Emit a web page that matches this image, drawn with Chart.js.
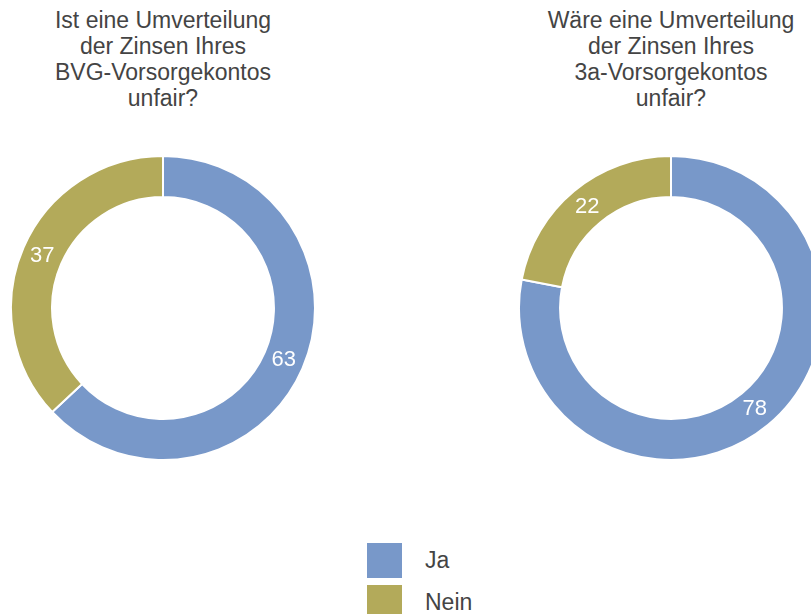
<!DOCTYPE html>
<html>
<head>
<meta charset="utf-8">
<script src="https://cdn.jsdelivr.net/npm/chart.js@4.4.0/dist/chart.umd.min.js"></script>
<style>
  html, body { margin: 0; padding: 0; background: #fff; overflow: hidden; }
  body { width: 811px; height: 614px; position: relative; font-family: 'Liberation Sans', Arial, sans-serif; color: #444; }
  .title { position: absolute; top: 7px; width: 320px; text-align: center; font-size: 23px; line-height: 26px; }
  .pie { position: absolute; top: 155px; width: 306px; height: 306px; }
  .legend { position: absolute; left: 367px; top: 539px; font-size: 23px; }
  .legend .item { display: flex; align-items: center; height: 42px; }
  .legend .box { width: 35px; height: 35px; margin-right: 23px; }
</style>
</head>
<body>
<div class="title" id="title1" style="left:3px"></div>
<div class="title" id="title2" style="left:511px"></div>
<div class="pie" style="left:10px"><canvas id="pie1" width="306" height="306"></canvas></div>
<div class="pie" style="left:518px"><canvas id="pie2" width="306" height="306"></canvas></div>
<div class="legend" id="legend"></div>
<script>
// Data
const categories = ['Ja', 'Nein'];
const bvgValues = [63, 37];
const saeule3aValues = [78, 22];
const bvgTitle = ['Ist eine Umverteilung', 'der Zinsen Ihres', 'BVG-Vorsorgekontos', 'unfair?'];
const saeule3aTitle = ['Wäre eine Umverteilung', 'der Zinsen Ihres', '3a-Vorsorgekontos', 'unfair?'];
const colors = ['#7898c9', '#b3aa5a'];

document.getElementById('title1').innerHTML = bvgTitle.join('<br>');
document.getElementById('title2').innerHTML = saeule3aTitle.join('<br>');

// Legend
const legend = document.getElementById('legend');
categories.forEach((c, i) => {
    const item = document.createElement('div');
    item.className = 'item';
    item.innerHTML = `<span class="box" style="background:${colors[i]}"></span><span>${c}</span>`;
    legend.appendChild(item);
});

// Value labels in the middle of the ring
const sliceLabels = {
    id: 'sliceLabels',
    afterDatasetsDraw(chart) {
        const ctx = chart.ctx;
        const meta = chart.getDatasetMeta(0);
        ctx.save();
        ctx.fillStyle = '#fff';
        ctx.font = "22px 'Liberation Sans', Arial, sans-serif";
        ctx.textAlign = 'center';
        ctx.textBaseline = 'middle';
        meta.data.forEach((arc, i) => {
            const p = arc.tooltipPosition();
            ctx.fillText(chart.data.datasets[0].data[i], p.x, p.y);
        });
        ctx.restore();
    }
};

function makePie(id, values) {
    new Chart(document.getElementById(id), {
        type: 'doughnut',
        data: {
            labels: categories,
            datasets: [{
                data: values,
                backgroundColor: colors,
                borderColor: '#fff',
                borderWidth: 2
            }]
        },
        options: {
            responsive: false,
            animation: false,
            cutout: '73%',
            layout: { padding: 0 },
            plugins: {
                legend: { display: false },
                tooltip: { enabled: false }
            }
        },
        plugins: [sliceLabels]
    });
}

makePie('pie1', bvgValues);
makePie('pie2', saeule3aValues);
</script>
</body>
</html>
